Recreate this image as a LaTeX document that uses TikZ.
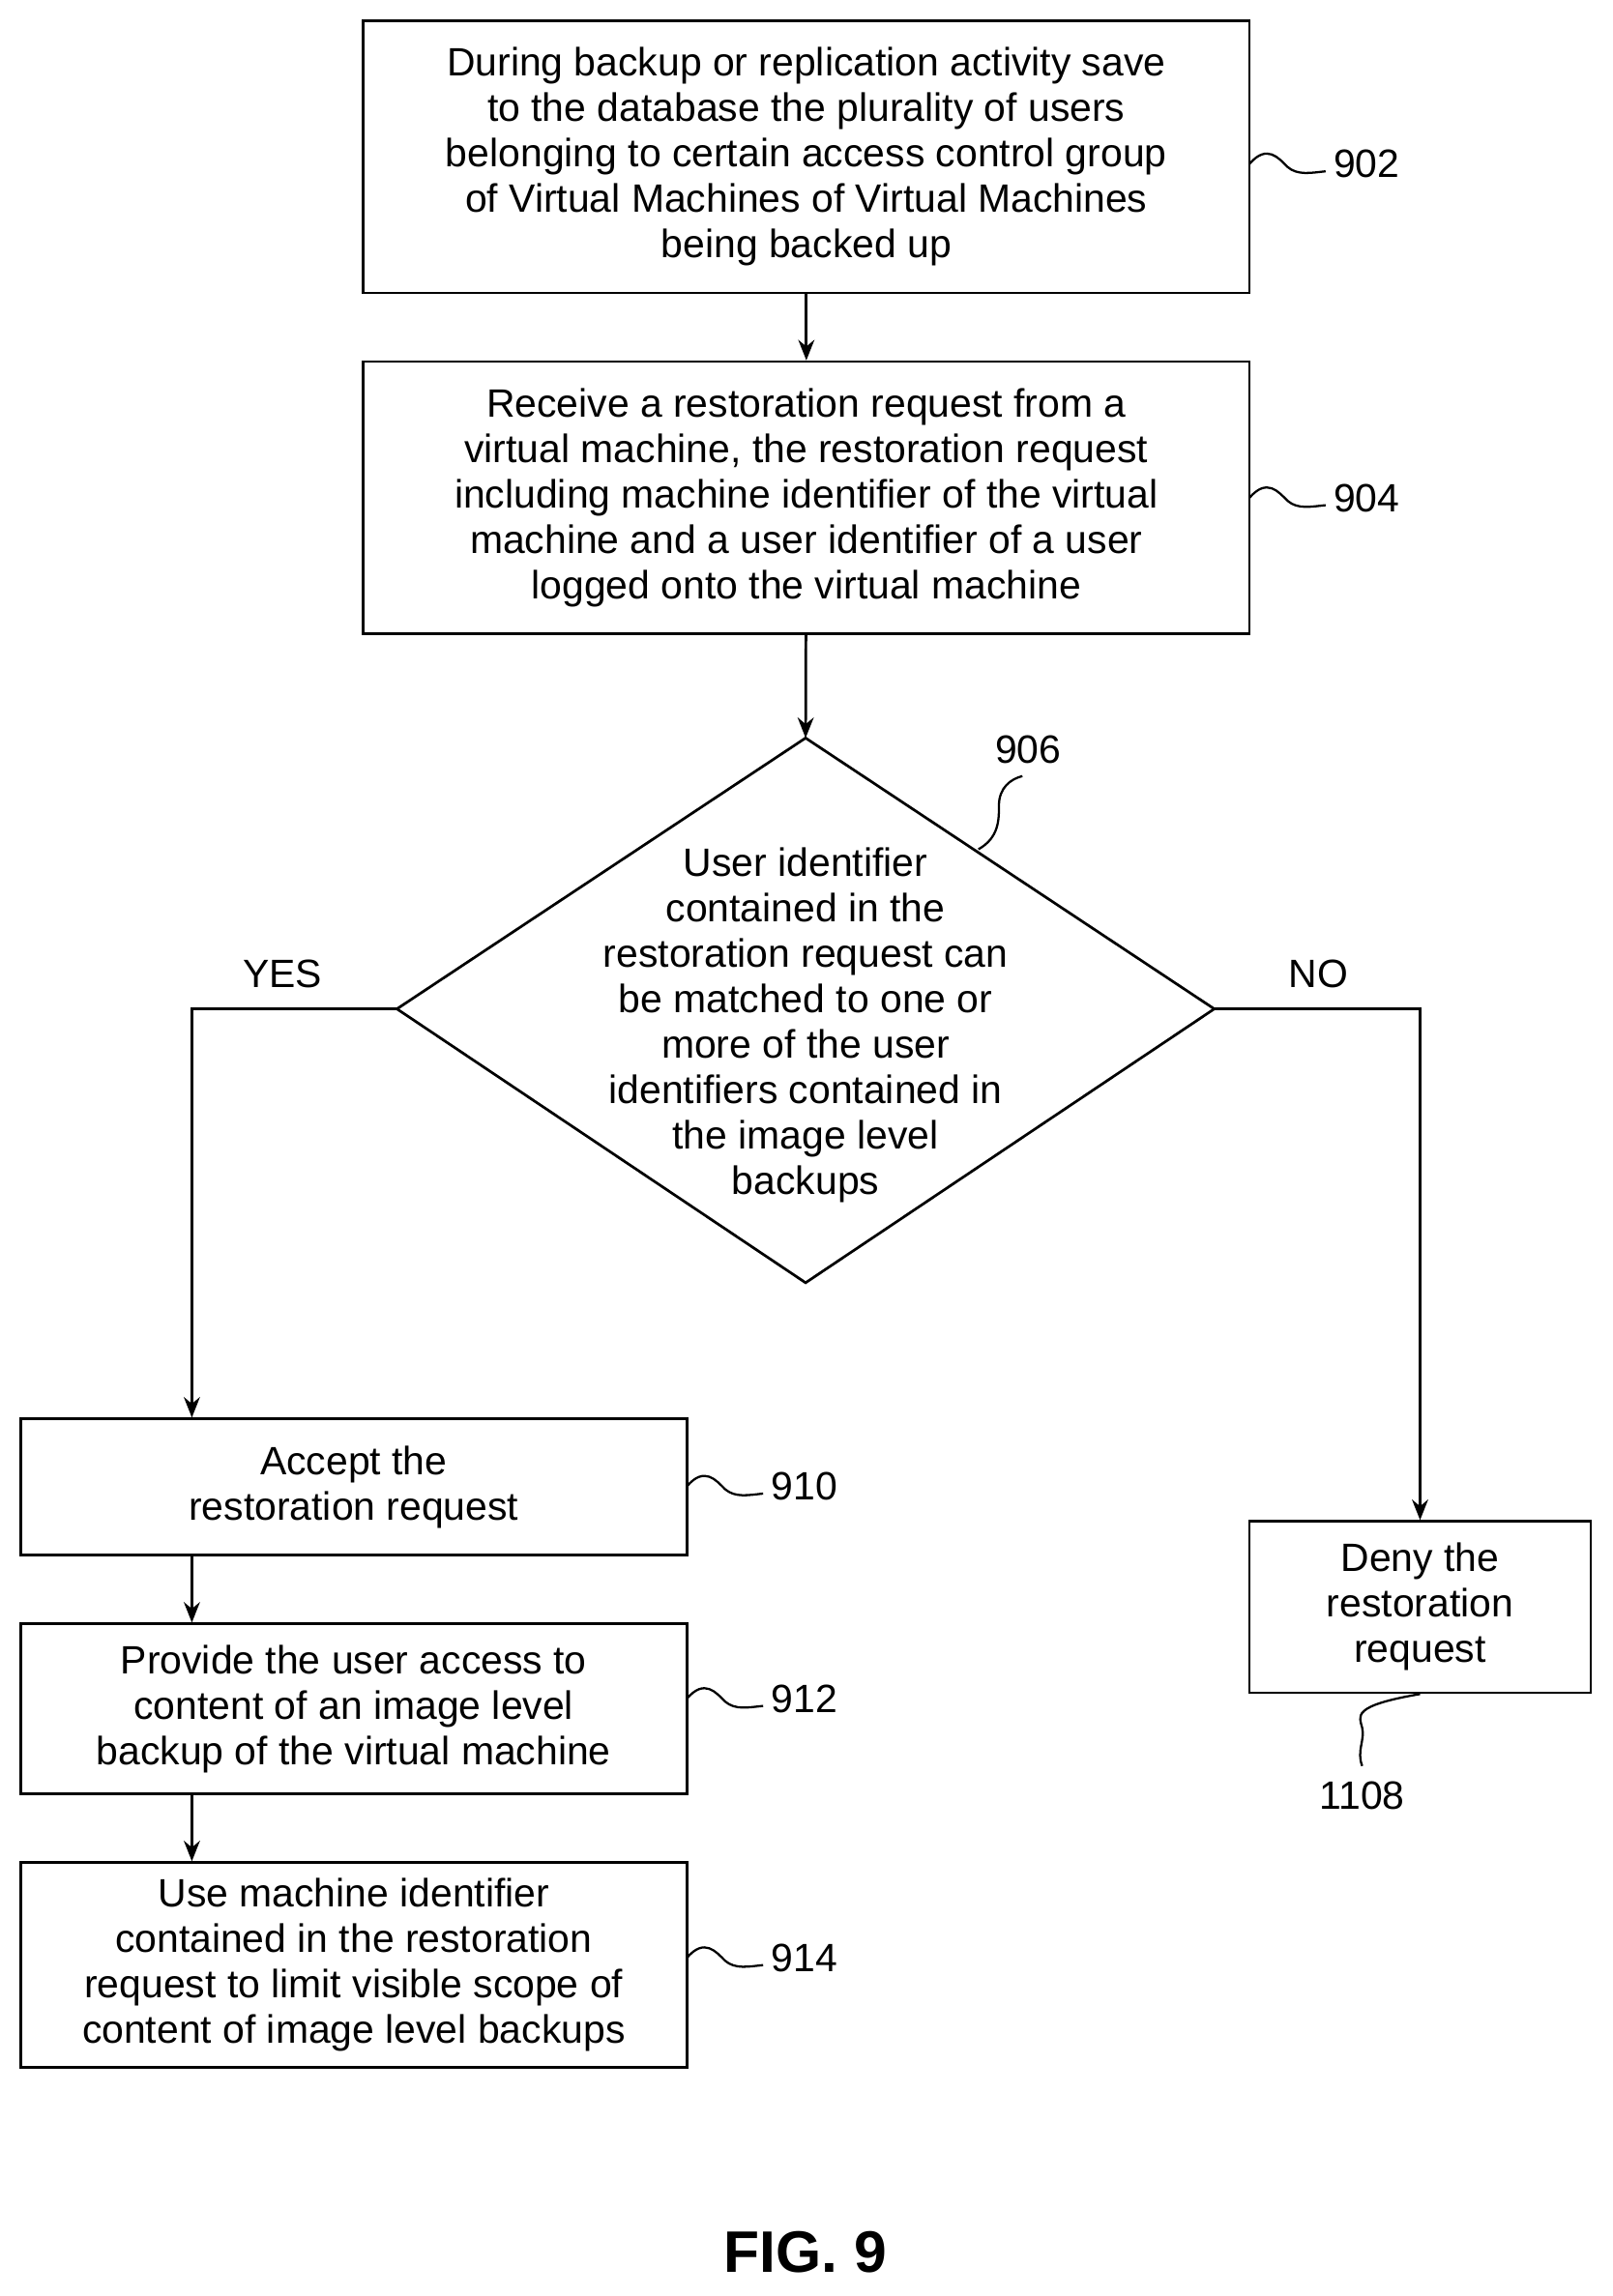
\documentclass[tikz,border=0pt]{standalone}
\usepackage{fontspec}
\setmainfont{Liberation Sans}
\usetikzlibrary{shapes.geometric,arrows.meta}
\begin{document}
\begin{tikzpicture}[x=1pt,y=-1pt,
  box/.style={draw,line width=1.8pt,inner sep=0pt,align=center,font=\fontsize{27}{31}\selectfont},
  lbl/.style={font=\fontsize{27}{31}\selectfont},
  arr/.style={line width=1.8pt,-{Stealth[length=14pt,width=11pt]}},
  sq/.style={line width=1.5pt}]
\useasboundingbox (0,0) rectangle (1101,1568);
\node[box,minimum width=605pt,minimum height=186pt] (b902) at (550.5,107) {During backup or replication activity save\\to the database the plurality of users\\belonging to certain access control group\\of Virtual Machines of Virtual Machines\\being backed up};
\node[box,minimum width=605pt,minimum height=186pt] (b904) at (550.5,340) {Receive a restoration request from a\\virtual machine, the restoration request\\including machine identifier of the virtual\\machine and a user identifier of a user\\logged onto the virtual machine};
\node[box,draw=none,minimum width=0pt] (t906) at (550,700) {User identifier\\contained in the\\restoration request can\\be matched to one or\\more of the user\\identifiers contained in\\the image level\\backups};
\draw[line width=1.8pt] (550,504) coordinate (dt) -- (829,689) coordinate (dr) -- (550,876) coordinate (db) -- (271,689) coordinate (dl) -- cycle;
\node[box,minimum width=455pt,minimum height=93pt] (b910) at (241.5,1015.5) {Accept the\\restoration request};
\node[box,minimum width=455pt,minimum height=116pt] (b912) at (241.5,1167) {Provide the user access to\\content of an image level\\backup of the virtual machine};
\node[box,minimum width=455pt,minimum height=140pt] (b914) at (241.5,1342) {Use machine identifier\\contained in the restoration\\request to limit visible scope of\\content of image level backups};
\node[box,minimum width=233pt,minimum height=117pt] (b1108) at (969.5,1097.5) {Deny the\\restoration\\request};
\node[lbl] (yes) at (193,665) {YES};
\node[lbl] (no) at (900,665) {NO};
\draw[arr] (b902) -- (b904);
\draw[arr] (b904) -- (dt);
\draw[arr] (dl) -| (b910.north -| 131,0);
\draw[arr] (dr) -| (b1108);
\draw[arr] (b910.south -| 131,0) -- (b912.north -| 131,0);
\draw[arr] (b912.south -| 131,0) -- (b914.north -| 131,0);
% reference numerals
\foreach \n/\x/\y in {902/853/112,904/853/340,910/469/1015,912/469/1160,914/469/1337}{
  \draw[sq] (\x,\y) .. controls (\x+12,\y-14) and (\x+20,\y-4) .. (\x+26,\y+2) .. controls (\x+33,\y+8) and (\x+42,\y+6) .. (\x+52,\y+5);
  \node[lbl,anchor=west] (n\n) at (\x+54,\y) {\n};
}
\draw[sq] (668,580) .. controls (682,572) and (682,560) .. (682,550) .. controls (682,538) and (690,532) .. (698,530);
\node[lbl] (n906) at (702,512) {906};
\draw[sq] (b1108.south) .. controls (922,1165) and (928,1172) .. (930,1180) .. controls (932,1188) and (926,1196) .. (930,1206);
\node[lbl] (n1108) at (930,1226) {1108};
\node[font=\bfseries\fontsize{40}{44}\selectfont] (fig) at (550,1538) {FIG. 9};
\end{tikzpicture}
\end{document}
